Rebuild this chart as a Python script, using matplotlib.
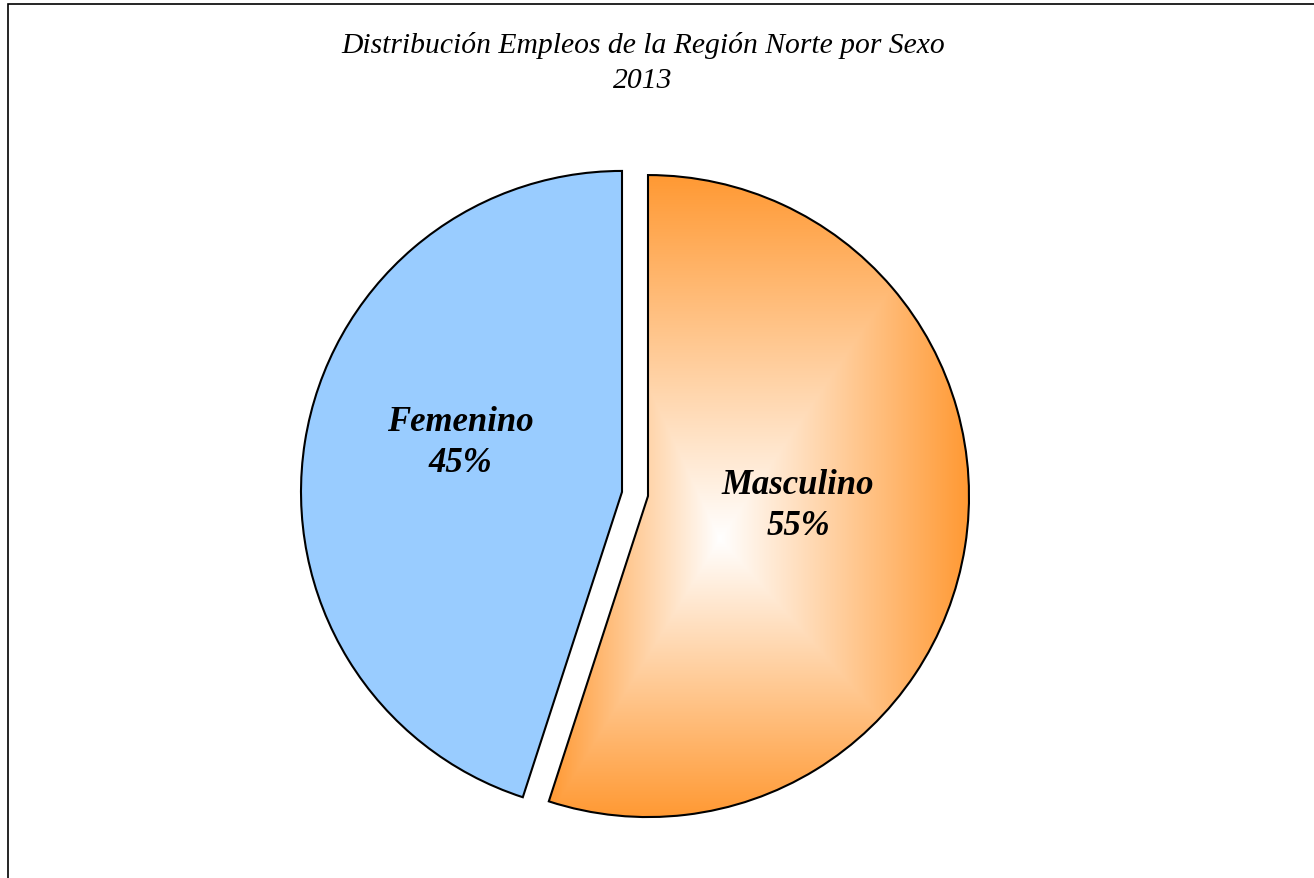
import numpy as np
import matplotlib
matplotlib.use("Agg")
import matplotlib.pyplot as plt
from matplotlib.patches import Rectangle

# ---- data ----
categories = ["Femenino", "Masculino"]
values = [45, 55]
title_lines = ["Distribución Empleos de la Región Norte por Sexo", "2013"]

W, H = 1314, 879
fig = plt.figure(figsize=(W / 100, H / 100), dpi=100)
ax = fig.add_axes([0, 0, 1, 1])
ax.set_xlim(0, W)
ax.set_ylim(0, H)
ax.axis("off")

def py(y):  # pixel y (from top) -> data y
    return H - y

center = (635, py(495))
radius = 321
orange = np.array([255, 153, 51]) / 255.0
blue = "#99CCFF"

wedges, _ = ax.pie(values, startangle=90, counterclock=True, center=center,
                   radius=radius, explode=[0.041 * radius, 0.041 * radius],
                   colors=[blue, "none"],
                   wedgeprops=dict(edgecolor="black", linewidth=1.5))
ax.set_xlim(0, W)
ax.set_ylim(0, H)
ax.set_aspect("equal")

# rectangular "from center" gradient for Masculino
xs = np.arange(W) + 0.5
ys = np.arange(H) + 0.5
X, Y = np.meshgrid(xs, ys)
cx, cy = 720, 540
hx = np.where(X < cx, cx - 549, 969 - cx)
hy = np.where(Y < cy, cy - 176, 818 - cy)
t = np.clip(np.maximum(np.abs(X - cx) / hx, np.abs(Y - cy) / hy), 0, 1)
img = (1 - t[..., None]) * np.ones(3) + t[..., None] * orange
im = ax.imshow(img, extent=(0, W, 0, H), origin="upper", zorder=0.5,
               interpolation="bilinear")
im.set_clip_path(wedges[1])
ax.set_xlim(0, W)
ax.set_ylim(0, H)

# labels
total = sum(values)
label_pos = [(460, 443), (798, 506)]
for cat, v, (lx, ly) in zip(categories, values, label_pos):
    ax.text(lx, py(ly), f"{cat}\n{round(100 * v / total)}%", ha="center", va="center",
            family="Liberation Serif", style="italic", weight="bold",
            fontsize=25, linespacing=1.34, zorder=3)

# title
ax.text(643, py(63), "\n".join(title_lines), ha="center", va="center",
        family="Liberation Serif", style="italic", fontsize=21.3,
        linespacing=1.47, zorder=3)

# chart border (cut by the image edges)
ax.add_patch(Rectangle((8, -20), W + 50, py(5) + 20, fill=False,
                       edgecolor="black", linewidth=1.2, clip_on=False))

fig.savefig("out.png", dpi=100)
